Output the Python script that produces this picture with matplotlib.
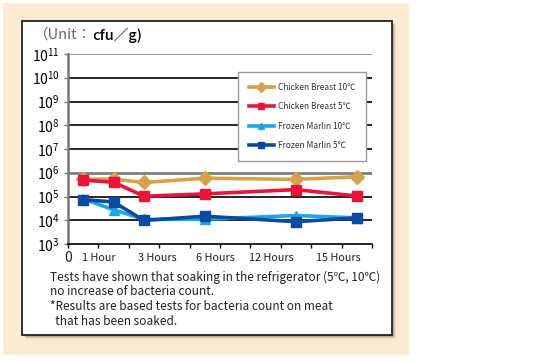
import matplotlib.pyplot as plt
from matplotlib.patches import Rectangle

plt.rcParams['font.family'] = ['Noto Sans CJK JP', 'DejaVu Sans']
plt.rcParams['mathtext.fontset'] = 'custom'
plt.rcParams['mathtext.rm'] = 'Noto Sans CJK JP'

# data (log10 of cfu/g)
x_pos = [0.5, 1.5, 2.5, 4.5, 7.5, 9.5]
chicken10 = [5.73, 5.73, 5.59, 5.77, 5.72, 5.83]
chicken5 = [5.69, 5.60, 5.01, 5.11, 5.29, 5.02]
marlin10 = [4.90, 4.44, 4.04, 4.04, 4.20, 4.10]
marlin5 = [4.87, 4.77, 3.99, 4.17, 3.94, 4.10]

series_names = ['Chicken Breast 10℃', 'Chicken Breast 5℃',
                'Frozen Marlin 10℃', 'Frozen Marlin 5℃']
series_colors = ['#d6a24b', '#e8143c', '#1aa7e6', '#0b4aa0']
series_markers = ['D', 's', '^', 's']

xtick_pos = [0, 1, 2.95, 4.85, 6.7, 8.9]
xtick_labels = ['0', '1 Hour', '3 Hours', '6 Hours', '12 Hours', '15 Hours']

W, H = 560, 362
fig = plt.figure(figsize=(W / 100, H / 100), dpi=100)


def px_rect(x0, y0, x1, y1, **kw):
    # rectangle in pixel coords (top-left origin)
    return Rectangle((x0 / W, 1 - y1 / H), (x1 - x0) / W, (y1 - y0) / H,
                     transform=fig.transFigure, **kw)


fig.patches.append(px_rect(3, 3, 409, 355, facecolor='#fcebd4',
                           edgecolor='none', zorder=-5))
for d, a in [(4, 0.10), (3, 0.15), (2, 0.25)]:
    fig.patches.append(px_rect(22 + d, 21 + d, 392 + d, 335 + d,
                               facecolor='#6b5a45', edgecolor='none',
                               alpha=a, zorder=-4))
fig.patches.append(px_rect(22, 21, 392, 335, facecolor='white',
                           edgecolor='#222222', linewidth=1.3, zorder=-3))

ax = fig.add_axes([68 / W, 1 - 244 / H, (372 - 68) / W, (244 - 54) / H])
ax.set_facecolor('none')
ax.set_zorder(2)

data = [chicken10, chicken5, marlin10, marlin5]
for vals, name, c, m in zip(data, series_names, series_colors, series_markers):
    ax.plot(x_pos, [10 ** v for v in vals], color=c, marker=m, lw=2.6,
            ms=7 if m == 'D' else 6.5, label=name, zorder=3)

ax.set_yscale('log')
ax.set_ylim(1e3, 1e11)
ax.set_xlim(0, 10)
for e in range(4, 12):
    if e == 6:
        ax.axhline(10 ** e, color='#808080', lw=2, zorder=1)
    elif e == 11:
        ax.axhline(10 ** e, color='#808080', lw=1.2, zorder=1)
    else:
        ax.axhline(10 ** e, color='black', lw=1.2, zorder=1)

ax.set_yticks([10 ** e for e in range(3, 12)])
ax.set_yticklabels([r'$\mathrm{10}^{\mathrm{%d}}$' % e for e in range(3, 12)],
                   fontsize=10)
ax.yaxis.set_minor_locator(plt.NullLocator())
ax.tick_params(axis='y', length=3, width=1, color='#777777', pad=3)

ax.set_xticks(range(0, 11))
ax.set_xticklabels([])
ax.tick_params(axis='x', length=3, width=1, direction='out')
for p, lab in zip(xtick_pos, xtick_labels):
    ax.text(p, -0.072, lab, transform=ax.get_xaxis_transform(),
            ha='center', va='center', fontsize=7.8 if lab != '0' else 10,
            color='#222222')

for s in ['top', 'right']:
    ax.spines[s].set_visible(False)
ax.spines['left'].set_color('#777777')
ax.spines['left'].set_linewidth(1.8)
ax.spines['bottom'].set_color('black')
ax.spines['bottom'].set_linewidth(1.2)

leg = ax.legend(loc='upper left', bbox_to_anchor=(238 / W, 1 - 72 / H),
                bbox_transform=fig.transFigure, borderaxespad=0,
                fontsize=6, frameon=True, fancybox=False, edgecolor='#999999',
                framealpha=1, handlelength=3.0, borderpad=1.3,
                labelspacing=1.25, handletextpad=0.5, markerscale=0.75)
leg.get_frame().set_linewidth(1)
for t in leg.get_texts():
    t.set_color('#333333')

t1 = fig.text(34 / W, 1 - 35 / H, '（Unit：', fontsize=10.5, color='#666666',
              va='center', ha='left')
ax.annotate('cfu／g)', xy=(1, 0.5), xycoords=t1, va='center', ha='left',
            fontsize=10.5, color='black', fontweight='medium')

notes = ['Tests have shown that soaking in the refrigerator (5℃, 10℃)',
         'no increase of bacteria count.',
         '*Results are based tests for bacteria count on meat',
         '  that has been soaked.']
for i, line in enumerate(notes):
    fig.text(50 / W, 1 - (277 + 14.7 * i) / H, line, fontsize=8.5,
             color='#222222', va='center', ha='left')

fig.savefig('out.png', dpi=100)
